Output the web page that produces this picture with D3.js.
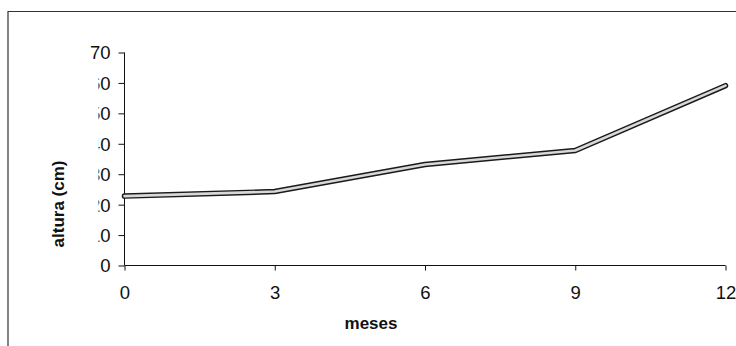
<!DOCTYPE html>
<html>
<head>
<meta charset="utf-8">
<script src="https://cdn.jsdelivr.net/npm/d3@7"></script>
<style>
  html, body { margin: 0; padding: 0; background: #fff; }
  svg { display: block; font-family: "Liberation Sans", Arial, sans-serif; }
</style>
</head>
<body>
<svg id="chart" width="736" height="346"></svg>
<script>
// Growth in height (cm) over the months
const months = [0, 3, 6, 9, 12];
const heights = [22.8, 24.3, 33.2, 37.8, 59.1];
const yTicks = [0, 10, 20, 30, 40, 50, 60, 70];
const xTicks = [0, 3, 6, 9, 12];
const xTitle = "meses";
const yTitle = "altura (cm)";

const svg = d3.select("#chart");

// Frame around the chart area
svg.append("path")
  .attr("d", "M8,346 L8,11.5 L736,11.5")
  .attr("fill", "none")
  .attr("stroke", "#333")
  .attr("stroke-width", 1.2);

const x = d3.scaleLinear().domain([0, 12]).range([124.5, 725.5]);
const y = d3.scaleLinear().domain([0, 70]).range([265.5, 52.5]);

// Clip for the y tick labels whose leading digit is cut off
// (coordinates are local to each tick group)
svg.append("defs").append("clipPath").attr("id", "lblclip")
  .append("rect").attr("x", 98.5 - x(0)).attr("y", -20).attr("width", 40).attr("height", 40);

const yAxis = svg.append("g")
  .attr("transform", `translate(${x(0)},0)`)
  .call(d3.axisLeft(y).tickValues(yTicks).tickSize(6).tickPadding(8).tickFormat(d3.format("d")));
yAxis.select(".domain").attr("d", `M0,${y(70)}V${y(0)}`).attr("stroke", "#111");
yAxis.selectAll(".tick line").attr("stroke", "#111");
yAxis.selectAll(".tick text")
  .attr("font-size", 18.5).attr("fill", "#111")
  .attr("font-family", "Liberation Sans, Arial, sans-serif")
  .attr("dy", "0.35em");
yAxis.selectAll(".tick").filter(d => d > 0 && d < 70)
  .select("text")
  .attr("clip-path", "url(#lblclip)");

const xAxis = svg.append("g")
  .attr("transform", `translate(0,${y(0)})`)
  .call(d3.axisBottom(x).tickValues(xTicks).tickSize(5).tickPadding(15).tickFormat(d3.format("d")));
xAxis.select(".domain").attr("d", `M${x(0)},0H${x(12)}`).attr("stroke", "#111");
xAxis.selectAll(".tick line").attr("stroke", "#111");
xAxis.selectAll(".tick text")
  .attr("font-size", 18.5).attr("fill", "#111")
  .attr("font-family", "Liberation Sans, Arial, sans-serif");

// Axis titles
svg.append("text")
  .attr("x", 371).attr("y", 329)
  .attr("text-anchor", "middle")
  .attr("font-size", 17).attr("font-weight", "bold").attr("fill", "#111")
  .text(xTitle);

svg.append("text")
  .attr("transform", "translate(64,204) rotate(-90)")
  .attr("text-anchor", "middle")
  .attr("font-size", 17).attr("font-weight", "bold").attr("fill", "#111")
  .text(yTitle);

// Height line: dark outline with a light core
const line = d3.line().x((d, i) => x(months[i])).y(d => y(d));
svg.append("path")
  .datum(heights)
  .attr("d", line)
  .attr("fill", "none")
  .attr("stroke", "#1a1a1a")
  .attr("stroke-width", 5.5)
  .attr("stroke-linecap", "round")
  .attr("stroke-linejoin", "round");
svg.append("path")
  .datum(heights)
  .attr("d", line)
  .attr("fill", "none")
  .attr("stroke", "#d8d8d8")
  .attr("stroke-width", 2.6)
  .attr("stroke-linecap", "round")
  .attr("stroke-linejoin", "round");
</script>
</body>
</html>
